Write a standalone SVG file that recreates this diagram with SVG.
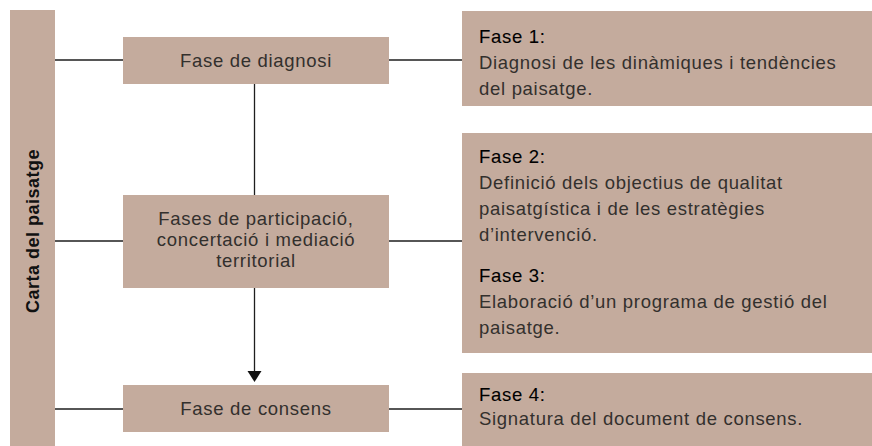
<svg xmlns="http://www.w3.org/2000/svg" width="872" height="446" viewBox="0 0 872 446">
<style>
.box{fill:#c4ab9d}
.ln{stroke:#1e1e1e;stroke-width:1.3;fill:none}
.t{font-family:"Liberation Sans",Arial,sans-serif;font-size:18.5px;letter-spacing:0.7px;fill:#33302d}
.c{text-anchor:middle}
.h{fill:#000;stroke:#000;stroke-width:0.1}
.v{font-family:"Liberation Sans",Arial,sans-serif;font-size:18px;font-weight:bold;letter-spacing:0.5px;fill:#111;text-anchor:middle}
.ah{fill:#111}
</style>
<g id="connectors">
<line class="ln" x1="55" y1="60" x2="123" y2="60"/>
<line class="ln" x1="389" y1="60" x2="462" y2="60"/>
<line class="ln" x1="55" y1="241" x2="123" y2="241"/>
<line class="ln" x1="389" y1="241" x2="462" y2="241"/>
<line class="ln" x1="55" y1="409" x2="123" y2="409"/>
<line class="ln" x1="389" y1="409" x2="462" y2="409"/>
<line class="ln" x1="254.5" y1="84" x2="254.5" y2="195"/>
<line class="ln" x1="254.5" y1="288" x2="254.5" y2="372"/>
<polygon class="ah" points="247.5,371 261.5,371 254.5,382"/>
</g>
<g id="carta">
<rect class="box" x="10" y="10" width="45" height="436"/>
<text class="v" transform="translate(39,231) rotate(-90)">Carta del paisatge</text>
</g>
<g id="diagnosi">
<rect class="box" x="123" y="37" width="266" height="47"/>
<text class="t c" x="256" y="67">Fase de diagnosi</text>
</g>
<g id="participacio">
<rect class="box" x="123" y="195" width="266" height="93"/>
<text class="t c" x="256" y="225">Fases de participació,</text>
<text class="t c" x="256" y="246">concertació i mediació</text>
<text class="t c" x="256" y="267">territorial</text>
</g>
<g id="consens">
<rect class="box" x="123" y="385" width="266" height="47"/>
<text class="t c" x="256" y="415">Fase de consens</text>
</g>
<g id="fase1">
<rect class="box" x="462" y="11" width="410" height="95"/>
<text class="t h" x="479" y="43">Fase 1:</text>
<text class="t" x="479" y="69">Diagnosi de les dinàmiques i tendències</text>
<text class="t" x="479" y="95">del paisatge.</text>
</g>
<g id="fase23">
<rect class="box" x="462" y="133" width="410" height="220"/>
<text class="t h" x="479" y="163">Fase 2:</text>
<text class="t" x="479" y="189">Definició dels objectius de qualitat</text>
<text class="t" x="479" y="215">paisatgística i de les estratègies</text>
<text class="t" x="479" y="241">d’intervenció.</text>
<text class="t h" x="479" y="282">Fase 3:</text>
<text class="t" x="479" y="308">Elaboració d’un programa de gestió del</text>
<text class="t" x="479" y="334">paisatge.</text>
</g>
<g id="fase4">
<rect class="box" x="462" y="373" width="410" height="73"/>
<text class="t h" x="479" y="401">Fase 4:</text>
<text class="t" x="479" y="425">Signatura del document de consens.</text>
</g>
</svg>
